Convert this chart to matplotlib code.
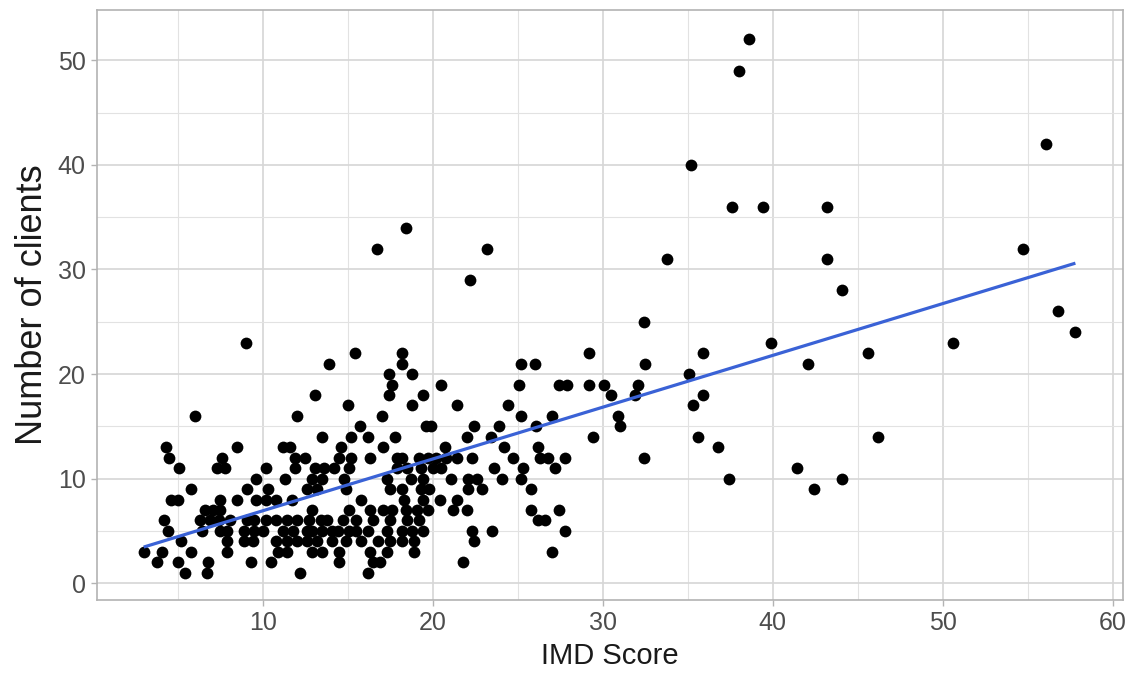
import numpy as np
import matplotlib
matplotlib.use("Agg")
import matplotlib.pyplot as plt
from matplotlib.ticker import MultipleLocator

# IMD score of each area, grouped by its client count
clients_by_count = {
    1: [5.4, 6.7, 12.2, 16.2],
    2: [3.8, 5.0, 6.8, 9.3, 10.5, 14.5, 16.5, 16.9, 21.8],
    3: [3.0, 4.1, 5.8, 7.9, 10.9, 11.4, 12.9, 13.5, 14.5, 16.3, 17.3, 18.9, 27.0],
    4: [5.2, 7.9, 8.9, 9.4, 10.8, 11.4, 12.0, 12.6, 13.2, 14.1, 14.9, 15.8,
        16.8, 17.5, 18.2, 18.9, 22.4],
    5: [4.4, 6.4, 7.5, 7.9, 8.9, 9.5, 10.0, 11.2, 11.8, 12.6, 12.9, 13.5, 14.1,
        14.4, 15.1, 15.5, 16.2, 17.3, 18.2, 18.8, 19.4, 22.3, 23.5, 27.8],
    6: [4.2, 6.3, 6.9, 7.4, 8.1, 9.1, 9.5, 10.2, 10.8, 11.4, 12.0, 12.7, 13.4,
        13.8, 14.7, 15.5, 16.5, 17.5, 18.5, 19.2, 26.2, 26.6],
    7: [6.6, 7.1, 7.5, 12.9, 15.1, 16.3, 17.1, 17.6, 18.4, 19.1, 19.7, 21.2,
        22.0, 25.8, 27.4],
    8: [4.6, 5.0, 7.5, 8.5, 9.6, 10.2, 10.8, 11.7, 15.8, 18.3, 19.4, 20.4, 21.4],
    9: [5.8, 9.1, 10.3, 12.6, 13.2, 14.9, 17.5, 18.2, 19.3, 19.8, 22.1, 22.9,
        25.8, 42.4],
    10: [9.6, 11.3, 12.9, 13.5, 14.8, 17.3, 18.7, 19.4, 21.1, 22.1, 22.6, 24.1,
         25.2, 37.4, 44.1],
    11: [5.1, 7.3, 7.8, 10.2, 11.9, 13.1, 13.6, 14.2, 15.1, 17.9, 18.5, 19.3,
         20.0, 20.5, 23.6, 25.3, 27.2, 41.4],
    12: [4.5, 7.6, 11.9, 12.5, 14.5, 15.2, 16.3, 17.9, 18.2, 19.2, 19.7, 20.2,
         20.8, 21.4, 22.3, 24.7, 26.3, 26.8, 27.8, 32.4],
    13: [4.3, 8.5, 11.2, 11.6, 14.6, 17.1, 20.7, 24.2, 26.2, 36.8],
    14: [13.5, 15.2, 16.2, 17.8, 22.0, 23.4, 29.4, 35.6, 46.2],
    15: [15.7, 19.6, 19.9, 22.4, 23.9, 26.1, 31.0],
    16: [6.0, 12.0, 17.0, 25.2, 27.0, 30.9],
    17: [15.0, 18.8, 21.4, 24.4, 35.3],
    18: [13.1, 17.4, 19.4, 30.5, 31.9, 35.9],
    19: [17.6, 20.5, 25.1, 27.4, 27.9, 29.2, 30.1, 32.1],
    20: [17.4, 18.8, 35.1],
    21: [13.9, 18.2, 25.2, 26.0, 32.5, 42.1],
    22: [15.4, 18.2, 29.2, 35.9, 45.6],
    23: [9.0, 39.9, 50.6],
    24: [57.8],
    25: [32.4],
    26: [56.8],
    28: [44.1],
    29: [22.2],
    31: [33.8, 43.2],
    32: [16.7, 23.2, 54.7],
    34: [18.4],
    36: [37.6, 39.4, 43.2],
    40: [35.2],
    42: [56.1],
    49: [38.0],
    52: [38.6],
}

imd_score = np.array([x for n, xs in clients_by_count.items() for x in xs])
n_clients = np.array([n for n, xs in clients_by_count.items() for _ in xs])

x_ticks = [10, 20, 30, 40, 50, 60]
y_ticks = [0, 10, 20, 30, 40, 50]

font = ["Liberation Sans", "DejaVu Sans"]

fig = plt.figure(figsize=(11.34, 6.91), dpi=100)
ax = fig.add_axes([0.0855, 0.1317, 0.9903 - 0.0855, 0.9855 - 0.1317])

# points
ax.scatter(imd_score, n_clients, s=72, color="black", linewidths=0, zorder=3)

# least-squares line over the observed score range
slope, intercept = np.polyfit(imd_score, n_clients, 1)
xs = np.linspace(imd_score.min(), imd_score.max(), 100)
ax.plot(xs, intercept + slope * xs, color="#3A62D6", lw=2.3, zorder=4,
        solid_capstyle="butt")

# light theme: grey border, pale grid
ax.set_xlim(0.25, 60.6)
ax.set_ylim(-1.6, 54.8)
ax.set_xticks(x_ticks)
ax.set_yticks(y_ticks)
ax.xaxis.set_minor_locator(MultipleLocator(5))
ax.yaxis.set_minor_locator(MultipleLocator(5))
ax.set_facecolor("white")
ax.grid(which="major", color="#D6D6D6", lw=1.2, zorder=0)
ax.grid(which="minor", color="#E2E2E2", lw=0.8, zorder=0)
ax.set_axisbelow(True)
for sp in ax.spines.values():
    sp.set_color("#B3B3B3")
    sp.set_linewidth(1.2)
ax.tick_params(which="major", length=4, width=1, color="#B3B3B3",
               labelcolor="#4D4D4D", labelsize=18, pad=4)
ax.tick_params(which="minor", length=0)
for lab in ax.get_xticklabels() + ax.get_yticklabels():
    lab.set_family(font)

ax.set_xlabel("IMD Score", fontsize=21, family=font, color="#1A1A1A",
              labelpad=5)
ax.set_ylabel("Number of clients", fontsize=26, family=font,
              color="#1A1A1A", labelpad=6)

fig.savefig("out.png", dpi=100, facecolor="white")
